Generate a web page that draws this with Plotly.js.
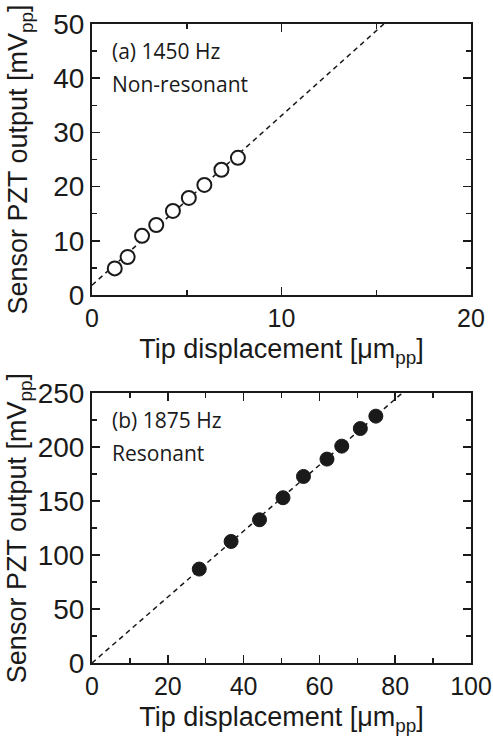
<!DOCTYPE html>
<html>
<head>
<meta charset="utf-8">
<script src="https://cdn.plot.ly/plotly-3.0.1.min.js"></script>
<style>html,body{margin:0;padding:0;background:#fff;}#chart{width:493px;height:738px;}</style>
</head>
<body>
<div id="chart"></div>
<script>
// (a) 1450 Hz, non-resonant
const dispA = [1.20, 1.88, 2.64, 3.39, 4.27, 5.11, 5.93, 6.83, 7.70];
const outA  = [4.9, 7.0, 10.9, 12.9, 15.5, 17.9, 20.3, 23.1, 25.3];
const fitDispA = [0, 15.4];
const fitOutA  = [1.8, 50];

// (b) 1875 Hz, resonant
const dispB = [28.3, 36.7, 44.2, 50.4, 55.8, 62.0, 65.9, 70.8, 74.9];
const outB  = [87.0, 112.6, 132.7, 153.1, 172.8, 188.9, 200.9, 217.2, 228.7];
const fitDispB = [0, 81.8];
const fitOutB  = [0, 250];

const ticksXA = [0, 10, 20];
const ticksYA = [0, 10, 20, 30, 40, 50];
const ticksXB = [0, 20, 40, 60, 80, 100];
const ticksYB = [0, 50, 100, 150, 200, 250];

const labelA = ['(a) 1450 Hz', 'Non-resonant'];
const labelB = ['(b) 1875 Hz', 'Resonant'];
const xTitle = 'Tip displacement [μm<sub>pp</sub>]';
const yTitle = 'Sensor PZT output [mV<sub>pp</sub>]';

const ink = '#1a1a1a';
const axisFont = "'Liberation Sans', Arial, sans-serif";
const noteFont = "'Open Sans', sans-serif";

const traces = [
  {x: fitDispA, y: fitOutA, xaxis: 'x', yaxis: 'y', mode: 'lines',
   line: {color: ink, width: 1.5, dash: '5px,4px'}, hoverinfo: 'skip'},
  {x: dispA, y: outA, xaxis: 'x', yaxis: 'y', mode: 'markers',
   marker: {symbol: 'circle', size: 14, color: '#ffffff', line: {color: ink, width: 2}}},
  {x: fitDispB, y: fitOutB, xaxis: 'x2', yaxis: 'y2', mode: 'lines',
   line: {color: ink, width: 1.5, dash: '5px,4px'}, hoverinfo: 'skip'},
  {x: dispB, y: outB, xaxis: 'x2', yaxis: 'y2', mode: 'markers',
   marker: {symbol: 'circle', size: 14, color: ink, line: {color: ink, width: 1}}}
];

function axis(range, tickvals, minorDtick, fontSize, title, extra) {
  return Object.assign({
    range: range, tickmode: 'array', tickvals: tickvals,
    ticks: 'inside', ticklen: 8, tickwidth: 1.5, tickcolor: ink,
    minor: {dtick: minorDtick, ticks: 'inside', ticklen: 5, tickwidth: 1.5, tickcolor: ink, showgrid: false},
    showline: true, linewidth: 2, linecolor: ink, mirror: 'allticks',
    showgrid: false, zeroline: false,
    tickfont: {family: axisFont, size: fontSize, color: ink},
    title: title,
    fixedrange: true
  }, extra);
}

const xTitleObj = {text: xTitle, font: {family: axisFont, size: 27, color: ink}, standoff: 8};
const yTitleObj = {text: yTitle, font: {family: axisFont, size: 27, color: ink}};

function notes(lines, xr, yr, ys) {
  return lines.map((t, i) => ({
    text: t, xref: xr, yref: yr, x: 0.047, y: ys[i], xanchor: 'left', yanchor: 'middle',
    showarrow: false, font: {family: noteFont, size: 21, color: ink}
  }));
}

const layout = {
  width: 493, height: 738,
  margin: {l: 92, r: 22, t: 24, b: 75},
  paper_bgcolor: '#ffffff', plot_bgcolor: '#ffffff',
  showlegend: false,
  xaxis: axis([0, 20], ticksXA, 5, 25, xTitleObj, {domain: [0, 1], anchor: 'y'}),
  yaxis: axis([0, 50], ticksYA, 5, 28, yTitleObj, {domain: [0.576, 1], anchor: 'x'}),
  xaxis2: axis([0, 100], ticksXB, 10, 25, xTitleObj, {domain: [0, 1], anchor: 'y2'}),
  yaxis2: axis([0, 250], ticksYB, 25, 28, yTitleObj, {domain: [0, 0.4223], anchor: 'x2'}),
  annotations: notes(labelA, 'x domain', 'y domain', [0.9, 0.78])
    .concat(notes(labelB, 'x2 domain', 'y2 domain', [0.9, 0.78]))
};

Plotly.newPlot('chart', traces, layout, {displayModeBar: false, staticPlot: true});
</script>
</body>
</html>
